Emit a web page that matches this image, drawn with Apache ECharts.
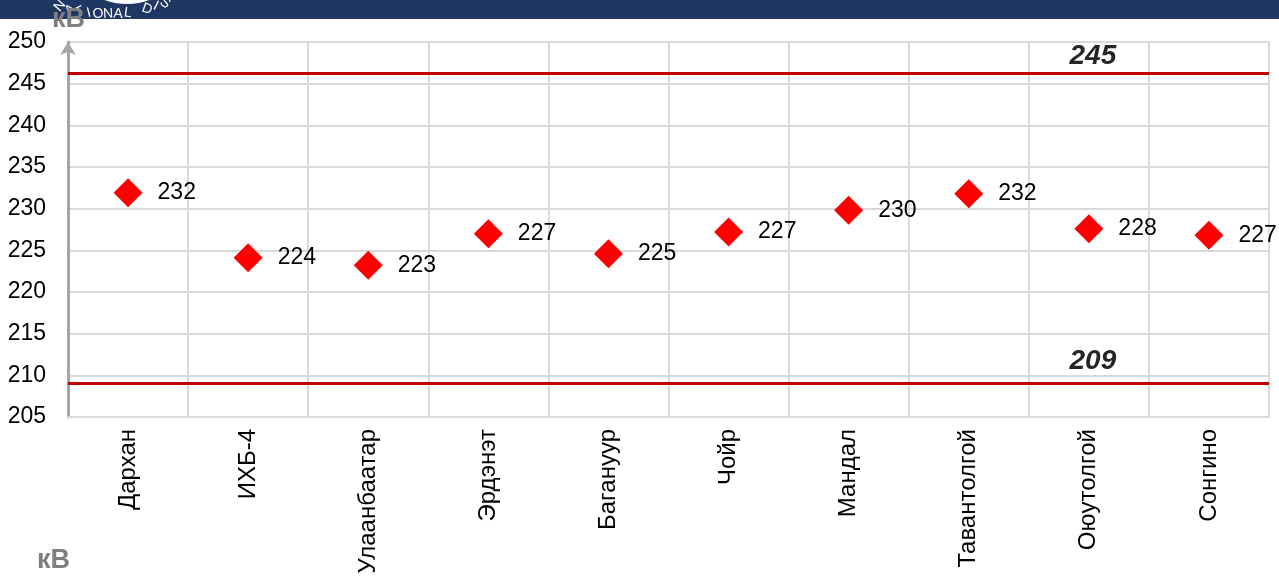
<!DOCTYPE html>
<html>
<head>
<meta charset="utf-8">
<script src="https://cdn.jsdelivr.net/npm/echarts@6/dist/echarts.min.js"></script>
<style>
  html, body { margin: 0; padding: 0; background: #fff; }
  #chart { width: 1279px; height: 577px; }
</style>
</head>
<body>
<div id="chart"></div>
<script>
// станции (категории) и замеренное напряжение, кВ
const stations = ['Дархан', 'ИХБ-4', 'Улаанбаатар', 'Эрдэнэт', 'Багануур', 'Чойр', 'Мандал', 'Тавантолгой', 'Оюутолгой', 'Сонгино'];
const voltage = [231.9, 224.1, 223.2, 227.0, 224.6, 227.2, 229.8, 231.8, 227.6, 226.8];
const voltageLabels = ['232', '224', '223', '227', '225', '227', '230', '232', '228', '227'];

// допустимые пределы (положение линии и подпись)
const limitLines = [246.3, 209.1];
const limitLabels = ['245', '209'];
const limitLabelAt = 'Оюутолгой';

const yTicks = [205, 250, 5]; // min, max, interval

const font = 'Arial, "Liberation Sans", sans-serif';
const chart = echarts.init(document.getElementById('chart'));

// буквы логотипа в шапке (просто декор)
const logoLetters = [
  ['N', 60, 6, -50], ['A', 70, 10, -38], ['T', 80, 12, -25], ['I', 89, 13, -15],
  ['O', 98, 14, -8], ['N', 108, 14, -3], ['A', 118, 14, 3], ['L', 128, 13, 8],
  ['D', 147, 9, 20], ['I', 156, 6, 26], ['S', 165, 3, 33]
];

chart.setOption({
  animation: false,
  grid: { left: 68, right: 10, top: 42, bottom: 160 },
  xAxis: {
    type: 'category',
    data: stations,
    boundaryGap: true,
    axisLine: { lineStyle: { color: '#D9D9D9', width: 2 } },
    axisTick: { show: false },
    axisLabel: { rotate: 90, fontSize: 24, color: '#000', fontFamily: font, margin: 12 },
    splitLine: { show: true, lineStyle: { color: '#D9D9D9', width: 2 } }
  },
  yAxis: {
    type: 'value',
    min: yTicks[0],
    max: yTicks[1],
    interval: yTicks[2],
    axisLine: {
      show: true,
      lineStyle: { color: '#A6A6A6', width: 3 },
      symbol: ['none', 'arrow'],
      symbolSize: [12, 13]
    },
    axisTick: { show: false },
    axisLabel: { fontSize: 23, color: '#000', fontFamily: font, margin: 22 },
    splitLine: { lineStyle: { color: '#D9D9D9', width: 2 } }
  },
  series: [{
    type: 'scatter',
    data: voltage,
    symbol: 'diamond',
    symbolSize: 29,
    itemStyle: { color: '#FF0000', opacity: 1 },
    label: {
      show: true,
      position: 'right',
      distance: 15,
      fontSize: 23,
      color: '#000',
      fontFamily: font,
      formatter: p => voltageLabels[p.dataIndex]
    },
    markLine: {
      silent: true,
      symbol: 'none',
      label: { show: false },
      lineStyle: { color: '#C00000', width: 3, type: 'solid' },
      data: limitLines.map(v => ({ yAxis: v }))
    },
    markPoint: {
      silent: true,
      symbol: 'circle',
      symbolSize: 0,
      label: {
        show: true,
        position: 'inside',
        fontSize: 28,
        fontWeight: 'bold',
        fontStyle: 'italic',
        color: '#262626',
        fontFamily: font,
        formatter: p => p.name
      },
      data: [
        { name: limitLabels[0], coord: [limitLabelAt, limitLines[0]], label: { offset: [4, -17] } },
        { name: limitLabels[1], coord: [limitLabelAt, limitLines[1]], label: { offset: [4, -22] } }
      ]
    }
  }],
  graphic: [
    { type: 'rect', left: 0, top: 0, z: -1, shape: { width: 1279, height: 19 }, style: { fill: '#1F3763' } },
    { type: 'ellipse', z: 0, shape: { cx: 127, cy: -30, rx: 45, ry: 32 }, style: { fill: 'none', stroke: '#fff', lineWidth: 4 } },
    ...logoLetters.map(([ch, x, y, deg]) => ({
      type: 'text', z: 1, x: x, y: y, rotation: -deg * Math.PI / 180,
      style: { text: ch, fill: '#fff', font: '14px ' + font, align: 'center', verticalAlign: 'middle' }
    })),
    { type: 'text', z: 10, left: 52, top: 6, style: { text: 'кВ', fill: '#7F7F7F', font: 'bold 27px ' + font } },
    { type: 'text', z: 10, left: 37, top: 547, style: { text: 'кВ', fill: '#7F7F7F', font: 'bold 27px ' + font } }
  ]
});
</script>
</body>
</html>
